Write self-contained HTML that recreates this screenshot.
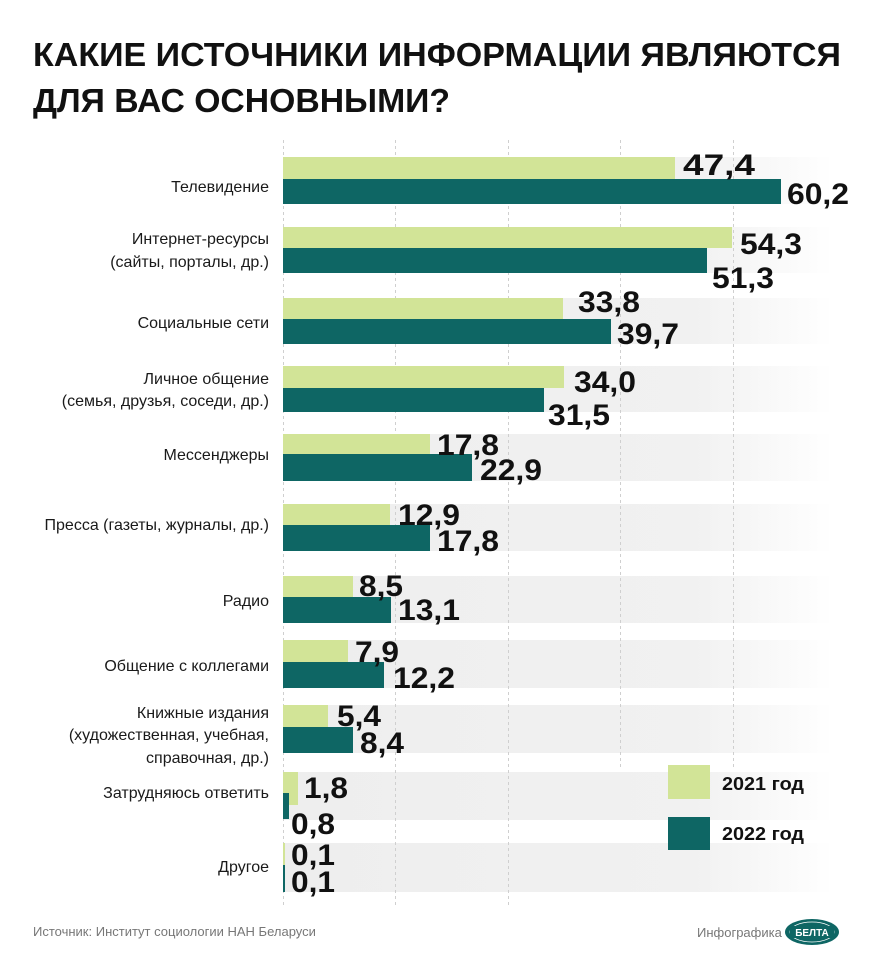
<!DOCTYPE html>
<html><head><meta charset="utf-8"><style>
html,body{margin:0;padding:0;background:#fff;}
svg{display:block;}
.lab{font-family:"Liberation Sans",sans-serif;font-size:16px;fill:#1a1a1a;}
.val{font-family:"Liberation Sans",sans-serif;font-size:30px;font-weight:bold;fill:#111;}
.ttl{font-family:"Liberation Sans",sans-serif;font-size:33px;font-weight:bold;fill:#111;}
</style></head><body>
<svg width="870" height="966" viewBox="0 0 870 966" xmlns="http://www.w3.org/2000/svg">
<defs>
<linearGradient id="g" x1="0" x2="1" y1="0" y2="0">
<stop offset="0" stop-color="#eeeeee"/><stop offset="0.75" stop-color="#f1f1f1"/><stop offset="1" stop-color="#ffffff"/>
</linearGradient>
</defs>
<text class="ttl" x="33" y="66" textLength="808" lengthAdjust="spacingAndGlyphs">КАКИЕ ИСТОЧНИКИ ИНФОРМАЦИИ ЯВЛЯЮТСЯ</text>
<text class="ttl" x="33" y="112" textLength="417" lengthAdjust="spacingAndGlyphs">ДЛЯ ВАС ОСНОВНЫМИ?</text>

<!-- stripes -->
<g fill="url(#g)">
<rect x="283" y="157" width="550" height="47"/>
<rect x="283" y="227" width="550" height="46"/>
<rect x="283" y="298" width="550" height="46"/>
<rect x="283" y="366" width="550" height="46"/>
<rect x="283" y="434" width="550" height="47"/>
<rect x="283" y="504" width="550" height="47"/>
<rect x="283" y="576" width="550" height="47"/>
<rect x="283" y="640" width="550" height="48"/>
<rect x="283" y="705" width="550" height="48"/>
<rect x="283" y="772" width="550" height="48"/>
<rect x="283" y="843" width="550" height="49"/>
</g>
<!-- grid -->
<g stroke="#cfcfcf" stroke-width="1" stroke-dasharray="3,3">
<line x1="283.5" y1="140" x2="283.5" y2="906"/>
<line x1="395.5" y1="140" x2="395.5" y2="906"/>
<line x1="508.5" y1="140" x2="508.5" y2="906"/>
<line x1="620.5" y1="140" x2="620.5" y2="770"/>
<line x1="733.5" y1="140" x2="733.5" y2="770"/>
</g>
<!-- bars: scale 8.27 -->
<g fill="#d2e497">
<rect x="283" y="157" width="392" height="22"/>
<rect x="283" y="227" width="449" height="21"/>
<rect x="283" y="298" width="280" height="21"/>
<rect x="283" y="366" width="281" height="22"/>
<rect x="283" y="434" width="147" height="20"/>
<rect x="283" y="504" width="107" height="21"/>
<rect x="283" y="576" width="70" height="21"/>
<rect x="283" y="640" width="65" height="22"/>
<rect x="283" y="705" width="45" height="22"/>
<rect x="283" y="772" width="15" height="33"/>
<rect x="283" y="843" width="2" height="22"/>
</g>
<g fill="#0e6664">
<rect x="283" y="179" width="498" height="25"/>
<rect x="283" y="248" width="424" height="25"/>
<rect x="283" y="319" width="328" height="25"/>
<rect x="283" y="388" width="261" height="24"/>
<rect x="283" y="454" width="189" height="27"/>
<rect x="283" y="525" width="147" height="26"/>
<rect x="283" y="597" width="108" height="26"/>
<rect x="283" y="662" width="101" height="26"/>
<rect x="283" y="727" width="70" height="26"/>
<rect x="283" y="793" width="6" height="26"/>
<rect x="283" y="865" width="2" height="27"/>
</g>
<!-- values -->
<g class="val">
<text x="683" y="175" textLength="72" lengthAdjust="spacingAndGlyphs">47,4</text>
<text x="787" y="204" textLength="62" lengthAdjust="spacingAndGlyphs">60,2</text>
<text x="740" y="254" textLength="62" lengthAdjust="spacingAndGlyphs">54,3</text>
<text x="712" y="288" textLength="62" lengthAdjust="spacingAndGlyphs">51,3</text>
<text x="578" y="312" textLength="62" lengthAdjust="spacingAndGlyphs">33,8</text>
<text x="617" y="344" textLength="62" lengthAdjust="spacingAndGlyphs">39,7</text>
<text x="574" y="392" textLength="62" lengthAdjust="spacingAndGlyphs">34,0</text>
<text x="548" y="425" textLength="62" lengthAdjust="spacingAndGlyphs">31,5</text>
<text x="437" y="455" textLength="62" lengthAdjust="spacingAndGlyphs">17,8</text>
<text x="480" y="480" textLength="62" lengthAdjust="spacingAndGlyphs">22,9</text>
<text x="398" y="525" textLength="62" lengthAdjust="spacingAndGlyphs">12,9</text>
<text x="437" y="551" textLength="62" lengthAdjust="spacingAndGlyphs">17,8</text>
<text x="359" y="596" textLength="44" lengthAdjust="spacingAndGlyphs">8,5</text>
<text x="398" y="620" textLength="62" lengthAdjust="spacingAndGlyphs">13,1</text>
<text x="355" y="662" textLength="44" lengthAdjust="spacingAndGlyphs">7,9</text>
<text x="393" y="688" textLength="62" lengthAdjust="spacingAndGlyphs">12,2</text>
<text x="337" y="726" textLength="44" lengthAdjust="spacingAndGlyphs">5,4</text>
<text x="360" y="753" textLength="44" lengthAdjust="spacingAndGlyphs">8,4</text>
<text x="304" y="798" textLength="44" lengthAdjust="spacingAndGlyphs">1,8</text>
<text x="291" y="834" textLength="44" lengthAdjust="spacingAndGlyphs">0,8</text>
<text x="291" y="865" textLength="44" lengthAdjust="spacingAndGlyphs">0,1</text>
<text x="291" y="892" textLength="44" lengthAdjust="spacingAndGlyphs">0,1</text>
</g>
<!-- labels -->
<g class="lab" text-anchor="end">
<text x="269" y="192">Телевидение</text>
<text x="269" y="244">Интернет-ресурсы</text>
<text x="269" y="267">(сайты, порталы, др.)</text>
<text x="269" y="328">Социальные сети</text>
<text x="269" y="384">Личное общение</text>
<text x="269" y="406">(семья, друзья, соседи, др.)</text>
<text x="269" y="460">Мессенджеры</text>
<text x="269" y="530">Пресса (газеты, журналы, др.)</text>
<text x="269" y="606">Радио</text>
<text x="269" y="671">Общение с коллегами</text>
<text x="269" y="718">Книжные издания</text>
<text x="269" y="740">(художественная, учебная,</text>
<text x="269" y="763">справочная, др.)</text>
<text x="269" y="798">Затрудняюсь ответить</text>
<text x="269" y="872">Другое</text>
</g>
<!-- legend -->
<rect x="668" y="765" width="42" height="34" fill="#d2e497"/>
<rect x="668" y="817" width="42" height="33" fill="#0e6664"/>
<text x="722" y="790" style="font-family:'Liberation Sans',sans-serif;font-size:18px;font-weight:bold;fill:#111" textLength="82" lengthAdjust="spacingAndGlyphs">2021 год</text>
<text x="722" y="840" style="font-family:'Liberation Sans',sans-serif;font-size:18px;font-weight:bold;fill:#111" textLength="82" lengthAdjust="spacingAndGlyphs">2022 год</text>
<!-- footer -->
<text x="33" y="936" style="font-family:'Liberation Sans',sans-serif;font-size:13px;fill:#777">Источник: Институт социологии НАН Беларуси</text>
<text x="697" y="937" style="font-family:'Liberation Sans',sans-serif;font-size:13px;fill:#777">Инфографика</text>
<ellipse cx="812" cy="932" rx="27" ry="13" fill="#0e6664"/>
<ellipse cx="812" cy="932" rx="22" ry="10" fill="none" stroke="#fff" stroke-width="0.8"/>
<rect x="790" y="926" width="44" height="12" fill="#0e6664"/>
<text x="812" y="936" text-anchor="middle" style="font-family:'Liberation Sans',sans-serif;font-size:10px;font-weight:bold;fill:#fff">БЕЛТА</text>
</svg>
</body></html>
